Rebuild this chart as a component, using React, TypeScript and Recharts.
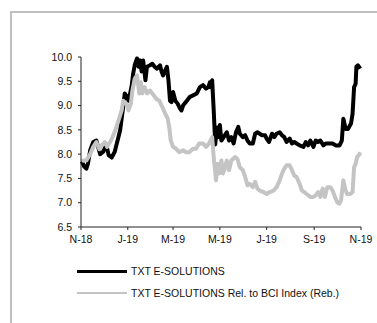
import React from "react";
import { LineChart, Line, XAxis, YAxis } from "recharts";

const FONT = "'Liberation Sans', Arial, sans-serif";
const BLACK = "#000000";
const GREY = "#c4c4c4";

// days since 1 Nov 2018
const TICK_DAYS = [0, 61, 120, 181, 242, 304, 365];
const TICK_LABELS = ["N-18", "J-19", "M-19", "M-19", "J-19", "S-19", "N-19"];
const Y_TICKS = [6.5, 7.0, 7.5, 8.0, 8.5, 9.0, 9.5, 10.0];

const txtDays = [
  1, 4, 7, 9, 12, 16, 20, 25, 29, 33, 36, 40, 44, 48, 51, 55, 57, 60, 62, 66, 68, 70, 73, 75, 77, 79, 81, 84, 86,
  90, 93, 96, 99, 103, 105, 107, 110, 112, 114, 116, 118, 120, 123, 126, 129, 131, 133, 138, 142, 146, 151, 155,
  159, 163, 166, 168, 169, 171, 173, 175, 177, 179, 181, 183, 186, 190, 193, 196, 199, 202, 205, 207, 211, 214,
  217, 220, 224, 227, 230, 233, 236, 240, 242, 245, 249, 252, 255, 259, 262, 265, 268, 272, 275, 278, 281, 285,
  290, 293, 296, 299, 303, 306, 309, 312, 316, 319, 324, 328, 332, 337, 340, 342, 345, 348, 352, 354, 356, 358,
  359, 361, 364,
];
const txtValues = [
  7.85, 7.75, 7.7, 7.8, 8.08, 8.25, 8.28, 8.0, 8.05, 8.2, 7.98, 7.93, 8.05, 8.3, 8.49, 8.97, 9.25, 9.18, 9.1, 9.4,
  9.66, 9.83, 9.97, 9.8, 9.93, 9.7, 9.93, 9.52, 9.8, 9.83, 9.86, 9.8, 9.76, 9.83, 9.7, 9.62, 9.73, 9.8, 9.52, 9.1,
  9.07, 9.28, 9.1, 9.04, 8.94, 8.9, 9.0, 9.1, 9.18, 9.21, 9.25, 9.38, 9.42, 9.35, 9.38, 9.48, 9.38, 9.52, 8.9, 8.2,
  8.55, 8.35, 8.6, 8.28, 8.35, 8.45, 8.28, 8.35, 8.22, 8.45, 8.56, 8.42, 8.35, 8.39, 8.28, 8.22, 8.22, 8.42, 8.45,
  8.42, 8.39, 8.39, 8.32, 8.25, 8.42, 8.35, 8.42, 8.45, 8.39, 8.35, 8.25, 8.32, 8.22, 8.25, 8.22, 8.18, 8.15, 8.25,
  8.18, 8.28, 8.15, 8.28, 8.25, 8.28, 8.18, 8.22, 8.22, 8.22, 8.18, 8.18, 8.28, 8.73, 8.52, 8.52, 8.63, 8.83, 9.38,
  9.45, 9.8, 9.83, 9.76,
];

const relDays = [
  1, 3, 7, 12, 16, 20, 24, 27, 31, 34, 38, 41, 44, 49, 53, 55, 59, 62, 65, 67, 70, 73, 76, 78, 80, 83, 86, 90, 93,
  98, 102, 106, 110, 113, 115, 117, 120, 124, 128, 133, 137, 141, 146, 150, 154, 159, 163, 167, 171, 173, 176, 178,
  180, 183, 185, 188, 190, 193, 196, 201, 204, 207, 211, 214, 217, 220, 224, 227, 230, 233, 238, 242, 246, 251,
  255, 259, 262, 265, 268, 272, 275, 278, 281, 285, 288, 291, 294, 299, 303, 306, 309, 312, 315, 318, 321, 325,
  328, 331, 334, 337, 339, 342, 345, 347, 351, 354, 356, 358, 360, 363, 364,
];
const relValues = [
  7.85, 7.87, 7.87, 8.0, 8.15, 8.25, 8.1, 8.18, 8.25, 8.15, 8.25, 8.35, 8.46, 8.7, 8.9, 9.1, 9.04, 8.9, 9.04, 9.31,
  9.55, 9.62, 9.25, 9.48, 9.25, 9.38, 9.25, 9.31, 9.25, 9.14, 9.1, 8.97, 8.83, 8.73, 8.56, 8.28, 8.15, 8.11, 8.04,
  8.08, 8.04, 8.04, 8.11, 8.11, 8.22, 8.22, 8.15, 8.22, 8.35, 7.94, 7.46, 7.8, 7.6, 7.87, 7.6, 7.73, 7.87, 7.67,
  7.87, 7.94, 7.9, 7.73, 7.67, 7.53, 7.36, 7.39, 7.32, 7.43, 7.29, 7.25, 7.22, 7.18, 7.22, 7.25, 7.32, 7.46, 7.6,
  7.7, 7.77, 7.77, 7.67, 7.56, 7.53, 7.39, 7.25, 7.22, 7.18, 7.12, 7.12, 7.15, 7.22, 7.12, 7.29, 7.12, 7.32, 7.32,
  7.25, 7.12, 7.01, 6.98, 7.05, 7.46, 7.25, 7.18, 7.18, 7.22, 7.73, 7.8, 7.94, 8.0, 8.04,
];

const txtData = txtDays.map((d, i) => ({ d, v: txtValues[i] }));
const relData = relDays.map((d, i) => ({ d, v: relValues[i] }));

const tickStyle = { fill: "#111", fontSize: 10.5, fontFamily: FONT };

export default function App() {
  return (
    <div style={{ position: "absolute", left: 0, top: 0, width: 377, height: 323, overflow: "hidden", background: "#fff", fontFamily: FONT }}>
      <div style={{ position: "absolute", left: 10, top: 11, width: 420, height: 400, border: "2px solid #c0c0c0" }} />
      <div style={{ position: "absolute", left: 0, top: 0 }}>
        <LineChart width={377} height={262} margin={{ top: 57, right: 16, left: 0, bottom: 5 }}>
          <XAxis
            type="number"
            dataKey="d"
            domain={[0, 365]}
            ticks={TICK_DAYS}
            tickFormatter={(v: number) => TICK_LABELS[TICK_DAYS.indexOf(v)]}
            tick={{ ...tickStyle, dy: 4 }}
            tickSize={3}
            height={30}
            axisLine={{ stroke: "#222" }}
            tickLine={{ stroke: "#222" }}
            interval={0}
            allowDuplicatedCategory={false}
          />
          <YAxis
            type="number"
            domain={[6.5, 10]}
            ticks={Y_TICKS}
            tickFormatter={(v: number) => v.toFixed(1)}
            tick={{ ...tickStyle, dx: -4 }}
            tickSize={3}
            width={81}
            axisLine={{ stroke: "#222" }}
            tickLine={{ stroke: "#222" }}
            interval={0}
          />
          <Line data={txtData} dataKey="v" stroke={BLACK} strokeWidth={4} dot={false} isAnimationActive={false} strokeLinejoin="round" />
          <Line data={relData} dataKey="v" stroke={GREY} strokeWidth={4} dot={false} isAnimationActive={false} strokeLinejoin="round" />
        </LineChart>
      </div>
      <div style={{ position: "absolute", left: 77, top: 269.5, width: 50, height: 3, background: BLACK }} />
      <div style={{ position: "absolute", left: 131, top: 265, fontSize: 10.5, color: "#111", lineHeight: "12px" }}>TXT E-SOLUTIONS</div>
      <div style={{ position: "absolute", left: 77, top: 292, width: 50, height: 2, background: GREY }} />
      <div style={{ position: "absolute", left: 131, top: 287, fontSize: 10.5, color: "#111", lineHeight: "12px" }}>
        TXT E-SOLUTIONS Rel. to BCI Index (Reb.)
      </div>
    </div>
  );
}
